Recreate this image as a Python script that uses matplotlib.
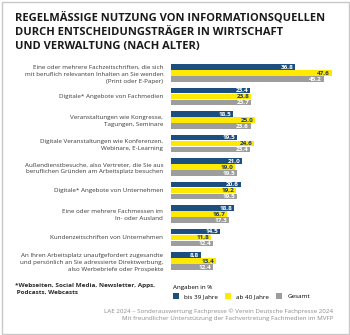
import matplotlib.pyplot as plt
from matplotlib.patches import Rectangle, Patch

plt.rcParams['font.family'] = ['Open Sans', 'DejaVu Sans']

categories = [
    "Eine oder mehrere Fachzeitschriften, die sich\nmit beruflich relevanten Inhalten an Sie wenden\n(Print oder E-Paper)",
    "Digitale* Angebote von Fachmedien",
    "Veranstaltungen wie Kongresse,\nTagungen, Seminare",
    "Digitale Veranstaltungen wie Konferenzen,\nWebinare, E-Learning",
    "Außendienstbesuche, also Vertreter, die Sie aus\nberuflichen Gründen am Arbeitsplatz besuchen",
    "Digitale* Angebote von Unternehmen",
    "Eine oder mehrere Fachmessen im\nIn- oder Ausland",
    "Kundenzeitschriften von Unternehmen",
    "An Ihren Arbeitsplatz unaufgefordert zugesandte\nund persönlich an Sie adressierte Direktwerbung,\nalso Werbebriefe oder Prospekte",
]
bis_39 = [36.8, 23.4, 18.5, 19.5, 21.0, 20.6, 18.8, 14.5, 8.8]
ab_40 = [47.6, 23.8, 25.0, 24.6, 19.0, 19.2, 16.7, 11.8, 13.4]
gesamt = [45.2, 23.7, 23.6, 23.4, 19.5, 19.5, 17.3, 12.4, 12.4]
series_names = ["bis 39 Jahre", "ab 40 Jahre", "Gesamt"]

BLUE = "#1d4e80"
YELLOW = "#ffe900"
GREY = "#9d9d9d"
colors = [BLUE, YELLOW, GREY]
text_colors = ["white", "#1d3a60", "white"]

W, H = 350, 335
fig = plt.figure(figsize=(W / 100, H / 100), dpi=100)

# axes placed in pixel terms
ax_left, ax_right, ax_top, ax_bottom = 171, 340, 60, 272
ax = fig.add_axes([ax_left / W, 1 - ax_bottom / H, (ax_right - ax_left) / W, (ax_bottom - ax_top) / H])

bar_h = 0.255
ys = list(range(len(categories)))
for k, vals in enumerate([bis_39, ab_40, gesamt]):
    pos = [y + (k - 1) * bar_h for y in ys]
    ax.barh(pos, vals, height=bar_h * 0.96, color=colors[k], label=series_names[k])
    for p, v in zip(pos, vals):
        ax.annotate(f"{v:.1f}".replace(".", ","), xy=(v, p), xytext=(-1.2, 0),
                    textcoords="offset points", ha="right", va="center",
                    fontsize=4.6, fontweight="bold", color=text_colors[k])

ax.set_xlim(0, (ax_right - ax_left) / 3.376)
ax.set_ylim(8.47, -0.553)
ax.set_yticks(ys)
ax.set_yticklabels(categories, fontsize=4.5, color="#3a3a3a", linespacing=1.5)
ax.tick_params(axis="y", length=0, pad=5.5)
ax.set_xticks([])
for s in ax.spines.values():
    s.set_visible(False)

fig.text(15 / W, 1 - 12 / H,
         "REGELMÄSSIGE NUTZUNG VON INFORMATIONSQUELLEN\nDURCH ENTSCHEIDUNGSTRÄGER IN WIRTSCHAFT\nUND VERWALTUNG (NACH ALTER)",
         ha="left", va="top", fontsize=8.0, fontweight="bold", color="#1a1a1a", linespacing=1.38)

fig.text(15 / W, 1 - 283 / H, "*Webseiten, Social Media, Newsletter, Apps,\n Podcasts, Webcasts",
         ha="left", va="top", fontsize=4.6, fontweight="bold", color="#2a2a2a", linespacing=1.4)

handles = [Patch(facecolor=c, edgecolor="none") for c in colors]
fig.legend(handles, series_names, loc="upper left", bbox_to_anchor=(168 / W, 1 - 280 / H),
           ncol=3, frameon=False, fontsize=4.5, title="Angaben in %", title_fontsize=4.5,
           alignment="left", handlelength=1.0, handleheight=1.0, handletextpad=0.8,
           columnspacing=1.1, borderpad=0.3)

fig.text(333 / W, 1 - 315 / H,
         "LAE 2024 – Sonderauswertung Fachpresse © Verein Deutsche Fachpresse 2024\nMit freundlicher Unterstützung der Fachvertretung Fachmedien im MVFP",
         ha="right", va="center", fontsize=4.5, color="#8c8c8c", linespacing=1.5)

fig.patches.append(Rectangle((1.5 / W, 1.5 / H), (W - 3) / W, (H - 3) / H, transform=fig.transFigure,
                             fill=False, edgecolor="#c8c8c8", linewidth=1.0))

fig.savefig("out.png", dpi=100)
